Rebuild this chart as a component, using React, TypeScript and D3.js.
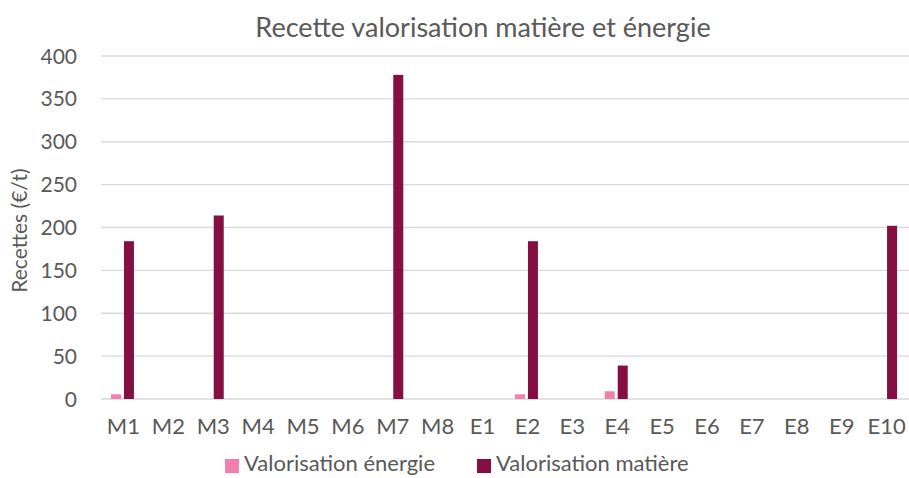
import * as d3 from 'd3'

const CATEGORIES = ['M1', 'M2', 'M3', 'M4', 'M5', 'M6', 'M7', 'M8', 'E1', 'E2', 'E3', 'E4', 'E5', 'E6', 'E7', 'E8', 'E9', 'E10']
const ENERGIE = [5.5, 0, 0, 0, 0, 0, 0, 0, 0, 5.5, 0, 9, 0, 0, 0, 0, 0, 0]
const MATIERE = [184, 0, 214, 0, 0, 0, 378, 0, 0, 184, 0, 39, 0, 0, 0, 0, 0, 202]
const Y_TICKS = [0, 50, 100, 150, 200, 250, 300, 350, 400]

const SERIES = [
  { name: 'Valorisation énergie', values: ENERGIE, color: '#f07fae' },
  { name: 'Valorisation matière', values: MATIERE, color: '#850f42' },
]

const W = 909
const H = 478
const M = { left: 101, right: 0, top: 56, bottom: 79 }
const TEXT = '#595959'
const FONT = 'Lato, "Open Sans", sans-serif'

export default function App() {
  const x = d3.scaleBand().domain(CATEGORIES).range([M.left, W - M.right])
  const y = d3.scaleLinear().domain([0, 400]).range([H - M.bottom, M.top])
  const barW = 10
  const gap = 3

  return (
    <svg width={W} height={H} style={{ position: 'absolute', left: 0, top: 0, background: '#fff' }} fontFamily={FONT}>
      <text x={483} y={37} textAnchor="middle" fontSize={27} fill={TEXT}>
        Recette valorisation matière et énergie
      </text>

      {/* grid */}
      {Y_TICKS.map(t => (
        <g key={t}>
          <line x1={M.left} x2={W - M.right} y1={y(t)} y2={y(t)} stroke="#d9d9d9" strokeWidth={1.3} />
          <text x={77} y={y(t)} dy="0.36em" textAnchor="end" fontSize={21} fill={TEXT}>{t}</text>
        </g>
      ))}

      <text transform={`translate(27,${(y(0) + y(400)) / 2 + 3}) rotate(-90)`} textAnchor="middle" fontSize={21} fill={TEXT}>
        Recettes (€/t)
      </text>

      {/* bars */}
      {CATEGORIES.map((c, i) => {
        const cx = x(c)! + x.bandwidth() / 2 - 1
        return SERIES.map((s, j) => {
          const v = s.values[i]
          if (!v) return null
          const bx = j === 0 ? cx - gap / 2 - barW : cx + gap / 2
          return <rect key={c + j} x={bx} y={y(v)} width={barW} height={y(0) - y(v)} fill={s.color} />
        })
      })}

      {CATEGORIES.map(c => (
        <text key={c} x={x(c)! + x.bandwidth() / 2} y={434} textAnchor="middle" fontSize={22} fill={TEXT}>{c}</text>
      ))}

      {/* legend */}
      {SERIES.map((s, j) => {
        const lx = j === 0 ? 225 : 477
        return (
          <g key={s.name}>
            <rect x={lx} y={459} width={14} height={14} fill={s.color} />
            <text x={lx + 19} y={471} fontSize={22} fill={TEXT}>{s.name}</text>
          </g>
        )
      })}
    </svg>
  )
}
